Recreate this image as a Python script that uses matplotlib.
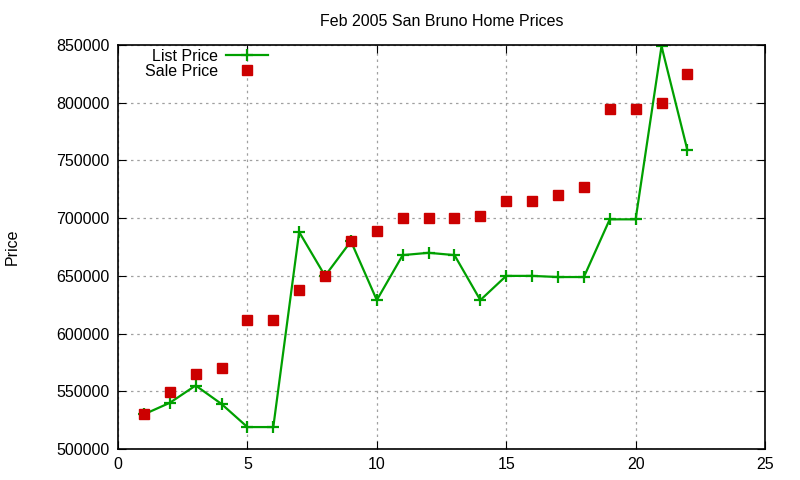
import matplotlib
matplotlib.use("Agg")
import matplotlib.pyplot as plt

plt.rcParams['font.family'] = ['Liberation Sans', 'DejaVu Sans']

# house index 1..22
houses = list(range(1, 23))
list_price = [530000, 540000, 555000, 539000, 519000, 519000, 688000, 650000,
              680000, 629000, 668000, 670000, 668000, 629000, 650000, 650000,
              649000, 649000, 699000, 699000, 849000, 759000]
sale_price = [530000, 549000, 565000, 570000, 612000, 612000, 638000, 650000,
              680000, 689000, 700000, 700000, 700000, 702000, 715000, 715000,
              720000, 727000, 795000, 795000, 800000, 825000]

xticks = [0, 5, 10, 15, 20, 25]
yticks = [500000, 550000, 600000, 650000, 700000, 750000, 800000, 850000]

fig = plt.figure(figsize=(8, 4.8), dpi=100)
ax = fig.add_axes([0.1475, 0.0646, 0.8088, 0.8415])

ax.plot(houses, list_price, color='#00a000', lw=1.6, marker='+', ms=9, mew=1.6,
        label='List Price')
ax.plot(houses, sale_price, ls='none', color='#cc0000', marker='s', ms=6.5,
        label='Sale Price')

ax.set_xlim(0, 25)
ax.set_ylim(500000, 850000)
ax.set_xticks(xticks)
ax.set_yticks(yticks)
ax.tick_params(direction='in', top=True, right=True, labelsize=11.5, length=6, pad=6)
ax.grid(True, color='#a0a0a0', ls=(0, (2, 3)), lw=0.9)
for s in ax.spines.values():
    s.set_linewidth(1.2)

ax.set_title('Feb 2005 San Bruno Home Prices', fontsize=11.5, pad=14)
ax.set_ylabel('Price', fontsize=11.5, va='center')
ax.yaxis.set_label_coords(-0.164, 0.5)

ax.legend(loc='upper left', bbox_to_anchor=(0.022, 1.022), frameon=False,
          markerfirst=False, fontsize=11.5, handlelength=2.6,
          labelspacing=0.0, borderpad=0.3, handletextpad=0.5)

fig.savefig('out.png', dpi=100)
